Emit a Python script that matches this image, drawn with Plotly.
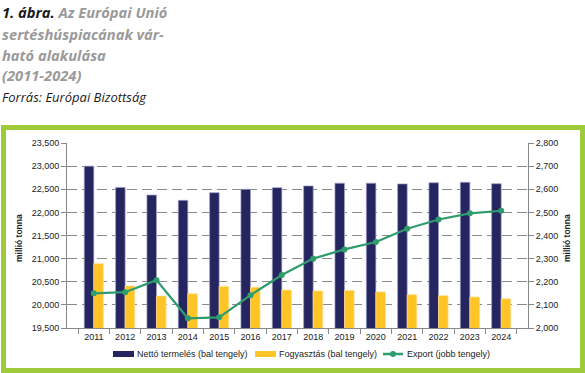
import plotly.graph_objects as go

years = [str(y) for y in range(2011, 2025)]
netto = [23000, 22540, 22375, 22260, 22426, 22500, 22535, 22572, 22630, 22630, 22615, 22640, 22650, 22620]
fogyasztas = [20890, 20410, 20190, 20240, 20400, 20380, 20320, 20300, 20310, 20280, 20220, 20200, 20170, 20130]
export = [2150, 2155, 2207, 2042, 2046, 2142, 2229, 2300, 2340, 2372, 2429, 2469, 2496, 2507]

left_ticks = [19500, 20000, 20500, 21000, 21500, 22000, 22500, 23000, 23500]
right_ticks = [2000, 2100, 2200, 2300, 2400, 2500, 2600, 2700, 2800]

NAVY = "#252560"
YELLOW = "#FFC425"
GREEN = "#2E9C6C"
FRAME = "#9DCB3A"

W, H = 585, 373
L, R, T, B = 67, 528, 143, 328
PW, PH = R - L, B - T

def px(x):
    return (x - L) / PW

def py(y):
    return (B - y) / PH

fig = go.Figure()
fig.add_trace(go.Bar(x=years, y=netto, name="Nettó termelés (bal tengely)",
                     marker=dict(color=NAVY, line=dict(color="rgba(160,160,200,0.9)", width=0.8))))
fig.add_trace(go.Bar(x=years, y=fogyasztas, name="Fogyasztás (bal tengely)",
                     marker=dict(color=YELLOW, line=dict(color="rgba(255,220,140,0.9)", width=0.8))))
fig.add_trace(go.Scatter(x=years, y=export, name="Export (jobb tengely)", yaxis="y2",
                         mode="lines+markers", line=dict(color=GREEN, width=2.2),
                         marker=dict(color=GREEN, size=6)))

tickfont = dict(family="Liberation Sans, Arial, sans-serif", size=9, color="#222")

fig.update_layout(
    width=W, height=H, autosize=False,
    margin=dict(l=L, r=W - R, t=T, b=H - B, pad=0, autoexpand=False),
    paper_bgcolor="white", plot_bgcolor="white",
    showlegend=False,
    barmode="group", bargap=0.39, bargroupgap=0,
    xaxis=dict(type="category", showgrid=False, showline=True, linecolor="#888", linewidth=1,
               ticks="outside", tickson="boundaries", ticklen=5, tickcolor="#888",
               tickfont=tickfont, automargin=False),
    yaxis=dict(range=[19500, 23500], tickvals=left_ticks, tickformat=",",
               showgrid=True, gridcolor="#8a8a8a", griddash="10px,5px", gridwidth=1,
               showline=True, linecolor="#888", linewidth=1,
               ticks="outside", ticklen=5, tickcolor="#888", tickfont=tickfont,
               zeroline=False, automargin=False),
    yaxis2=dict(range=[2000, 2800], tickvals=right_ticks, tickformat=",",
                overlaying="y", side="right", showgrid=False,
                showline=True, linecolor="#888", linewidth=1,
                ticks="outside", ticklen=5, tickcolor="#888", tickfont=tickfont,
                zeroline=False, automargin=False),
)

shapes = []
annotations = []

# green frame
shapes.append(dict(type="rect", xref="paper", yref="paper",
                   x0=px(3.5), x1=px(582.5), y0=py(370.5), y1=py(127.5),
                   line=dict(color=FRAME, width=5), fillcolor="rgba(0,0,0,0)", layer="below"))

# axis titles
for xpos in (19, 567):
    annotations.append(dict(text="<b>millió tonna</b>", xref="paper", yref="paper",
                            x=px(xpos), y=py(238), showarrow=False, textangle=-90,
                            xanchor="center", yanchor="middle",
                            font=dict(family="Liberation Sans, Arial, sans-serif", size=8.5, color="#222")))

# custom legend
leg_y = 354
legend_items = [
    ("bar", NAVY, 113, "Nettó termelés (bal tengely)"),
    ("bar", YELLOW, 255, "Fogyasztás (bal tengely)"),
    ("line", GREEN, 383, "Export (jobb tengely)"),
]
for kind, col, x0, label in legend_items:
    if kind == "bar":
        shapes.append(dict(type="rect", xref="paper", yref="paper",
                           x0=px(x0), x1=px(x0 + 21), y0=py(leg_y + 3), y1=py(leg_y - 3),
                           fillcolor=col, line=dict(width=0)))
    else:
        shapes.append(dict(type="line", xref="paper", yref="paper",
                           x0=px(x0), x1=px(x0 + 20), y0=py(leg_y), y1=py(leg_y),
                           line=dict(color=col, width=2.5)))
        shapes.append(dict(type="circle", xref="paper", yref="paper",
                           x0=px(x0 + 7), x1=px(x0 + 13), y0=py(leg_y + 3), y1=py(leg_y - 3),
                           fillcolor=col, line=dict(width=0)))
    annotations.append(dict(text=label, xref="paper", yref="paper",
                            x=px(x0 + 22), y=py(leg_y), showarrow=False,
                            xanchor="left", yanchor="middle",
                            font=dict(family="Liberation Sans, Arial, sans-serif", size=9, color="#222")))

# title block
tfont = "Open Sans, sans-serif"
title_lines = [
    ("<b><i>1. ábra.</i></b> <b><i><span style='color:#9a9a9a'>Az Európai Unió</span></i></b>", 12),
    ("<b><i><span style='color:#9a9a9a'>sertéshúspiacának vár-</span></i></b>", 34),
    ("<b><i><span style='color:#9a9a9a'>ható alakulása</span></i></b>", 55),
    ("<b><i><span style='color:#9a9a9a'>(2011-2024)</span></i></b>", 75),
]
for txt, yy in title_lines:
    annotations.append(dict(text=txt, xref="paper", yref="paper", x=px(0), y=py(yy),
                            showarrow=False, xanchor="left", yanchor="middle",
                            font=dict(family=tfont, size=14.7, color="#1a1a1a")))
annotations.append(dict(text="<i>Forrás: Európai Bizottság</i>", xref="paper", yref="paper",
                        x=px(0), y=py(97), showarrow=False, xanchor="left", yanchor="middle",
                        font=dict(family=tfont, size=13, color="#1a1a1a")))

fig.update_layout(shapes=shapes, annotations=annotations)
fig.write_html("out.html",
               config={"displayModeBar": False},
               post_script="document.body.style.margin='0';document.body.style.padding='0';"
                           "document.documentElement.style.overflow='hidden';")
